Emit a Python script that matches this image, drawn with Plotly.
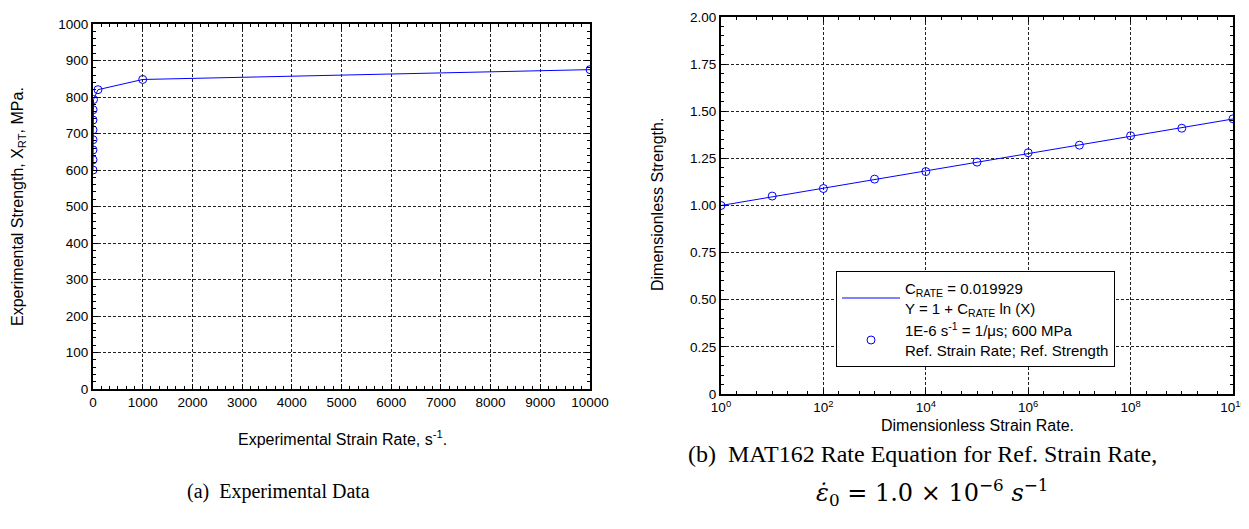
import plotly.graph_objects as go

# page body has an 8px margin: figure is sized so that it stays inside the 1249x529 window
OFF = 8
W, H = 1249 - OFF, 529 - 2 * OFF

# ---- data (a): experimental strain rate vs strength ----
exp_rate = [1e-6, 1e-5, 1e-4, 1e-3, 1e-2, 1e-1, 1, 10, 100, 1000, 10000]
exp_strength = [600, 628, 655, 683, 710, 737, 765, 793, 820, 848, 875]

# ---- data (b): dimensionless ----
dim_rate = [1, 10, 1e2, 1e3, 1e4, 1e5, 1e6, 1e7, 1e8, 1e9, 1e10]
dim_strength = [1.00, 1.05, 1.09, 1.14, 1.18, 1.23, 1.28, 1.32, 1.37, 1.41, 1.46]
fit_rate = [1, 1e10]
fit_strength = [1.00, 1.459]

left_xticks = [0, 1000, 2000, 3000, 4000, 5000, 6000, 7000, 8000, 9000, 10000]
left_yticks = [0, 100, 200, 300, 400, 500, 600, 700, 800, 900, 1000]
right_xticks = [1, 1e2, 1e4, 1e6, 1e8, 1e10]
right_xtext = ["10<sup>0</sup>", "10<sup>2</sup>", "10<sup>4</sup>", "10<sup>6</sup>", "10<sup>8</sup>", "10<sup>10</sup>"]
right_yticks = [0, 0.25, 0.5, 0.75, 1.0, 1.25, 1.5, 1.75, 2.0]
right_ytext = ["0", "0.25", "0.50", "0.75", "1.00", "1.25", "1.50", "1.75", "2.00"]

BLUE = "#0000ff"
SANS = "Liberation Sans, Arial, sans-serif"
SERIF = "Liberation Serif, Times New Roman, serif"
MATH = "DejaVu Serif, Liberation Serif, serif"

fig = go.Figure()

fig.add_trace(go.Scatter(
    x=exp_rate, y=exp_strength, mode="lines+markers",
    line=dict(color=BLUE, width=1),
    marker=dict(symbol="circle-open", size=8, color=BLUE, line=dict(width=1)),
    xaxis="x", yaxis="y", showlegend=False))

fig.add_trace(go.Scatter(
    x=fit_rate, y=fit_strength, mode="lines",
    line=dict(color=BLUE, width=1),
    name="C<sub>RATE</sub> = 0.019929<br>Y = 1 + C<sub>RATE</sub> ln (X)",
    xaxis="x2", yaxis="y2", showlegend=True))

fig.add_trace(go.Scatter(
    x=dim_rate, y=dim_strength, mode="markers",
    marker=dict(symbol="circle-open", size=8, color=BLUE, line=dict(width=1)),
    name="1E-6 s<sup>-1</sup> = 1/\u03bcs; 600 MPa<br>Ref. Strain Rate; Ref. Strength",
    xaxis="x2", yaxis="y2", showlegend=True))

def px_x(p):
    return (p - OFF) / W

def px_y(p):
    return 1 - (p - OFF) / H

axis_common = dict(
    showline=True, linecolor="black", linewidth=2, mirror="allticks",
    ticks="inside", ticklen=5, tickcolor="black", tickwidth=1,
    showgrid=True, gridcolor="#222222", gridwidth=1, griddash="3px,2px",
    zeroline=False, automargin=False, ticklabeloverflow="allow",
    tickfont=dict(family=SANS, size=13.5, color="black"),
)

fig.update_layout(
    width=W, height=H,
    margin=dict(l=0, r=0, t=0, b=0),
    paper_bgcolor="white", plot_bgcolor="white",
    xaxis=dict(
        domain=[px_x(93), px_x(590)], anchor="y",
        range=[0, 10000], tickvals=left_xticks,
        ticktext=[str(v) for v in left_xticks],
        minor=dict(dtick=1000 / 6, ticks="inside", ticklen=3, tickcolor="black", showgrid=False),
        **axis_common),
    yaxis=dict(
        domain=[px_y(389), px_y(24)], anchor="x",
        range=[0, 1000], tickvals=left_yticks,
        ticktext=[str(v) for v in left_yticks],
        minor=dict(dtick=20, ticks="inside", ticklen=3, tickcolor="black", showgrid=False),
        **axis_common),
    xaxis2=dict(
        domain=[px_x(721), px_x(1233)], anchor="y2", type="log",
        range=[0, 10], tickvals=right_xticks, ticktext=right_xtext,
        minor=dict(ticks="inside", ticklen=3, tickcolor="black", showgrid=False),
        **axis_common),
    yaxis2=dict(
        domain=[px_y(394), px_y(17)], anchor="x2",
        range=[0, 2], tickvals=right_yticks, ticktext=right_ytext,
        minor=dict(dtick=0.05, ticks="inside", ticklen=3, tickcolor="black", showgrid=False),
        **axis_common),
    legend=dict(
        x=px_x(836), y=px_y(271), xanchor="left", yanchor="top",
        bgcolor="white", bordercolor="black", borderwidth=1,
        font=dict(family=SANS, size=15, color="black"),
        tracegroupgap=2, itemwidth=58,
    ),
)

annotations = [
    dict(text="Experimental Strain Rate, s<sup>-1</sup>.", x=px_x(342), y=px_y(438),
         font=dict(family=SANS, size=16)),
    dict(text="Experimental Strength, X<sub>RT</sub>, MPa.", x=px_x(19), y=px_y(207),
         textangle=-90, font=dict(family=SANS, size=16)),
    dict(text="Dimensionless Strain Rate.", x=px_x(977), y=px_y(425),
         font=dict(family=SANS, size=16)),
    dict(text="Dimensionless Strength.", x=px_x(657), y=px_y(205),
         textangle=-90, font=dict(family=SANS, size=16)),
    dict(text="(a)  Experimental Data", x=px_x(278), y=px_y(491),
         font=dict(family=SERIF, size=20)),
    dict(text="(b)  MAT162 Rate Equation for Ref. Strain Rate,", x=px_x(923), y=px_y(454),
         font=dict(family=SERIF, size=24)),
    dict(text="<i>\u03b5\u0307</i><sub>0</sub> = 1.0 \u00d7 10<sup>\u22126</sup> <i>s</i><sup>\u22121</sup>",
         x=px_x(932), y=px_y(492), font=dict(family=MATH, size=24)),
]
for a in annotations:
    a.update(xref="paper", yref="paper", showarrow=False, xanchor="center", yanchor="middle")
    a["font"]["color"] = "black"
fig.update_layout(annotations=annotations)

fig.write_html("out.html")
